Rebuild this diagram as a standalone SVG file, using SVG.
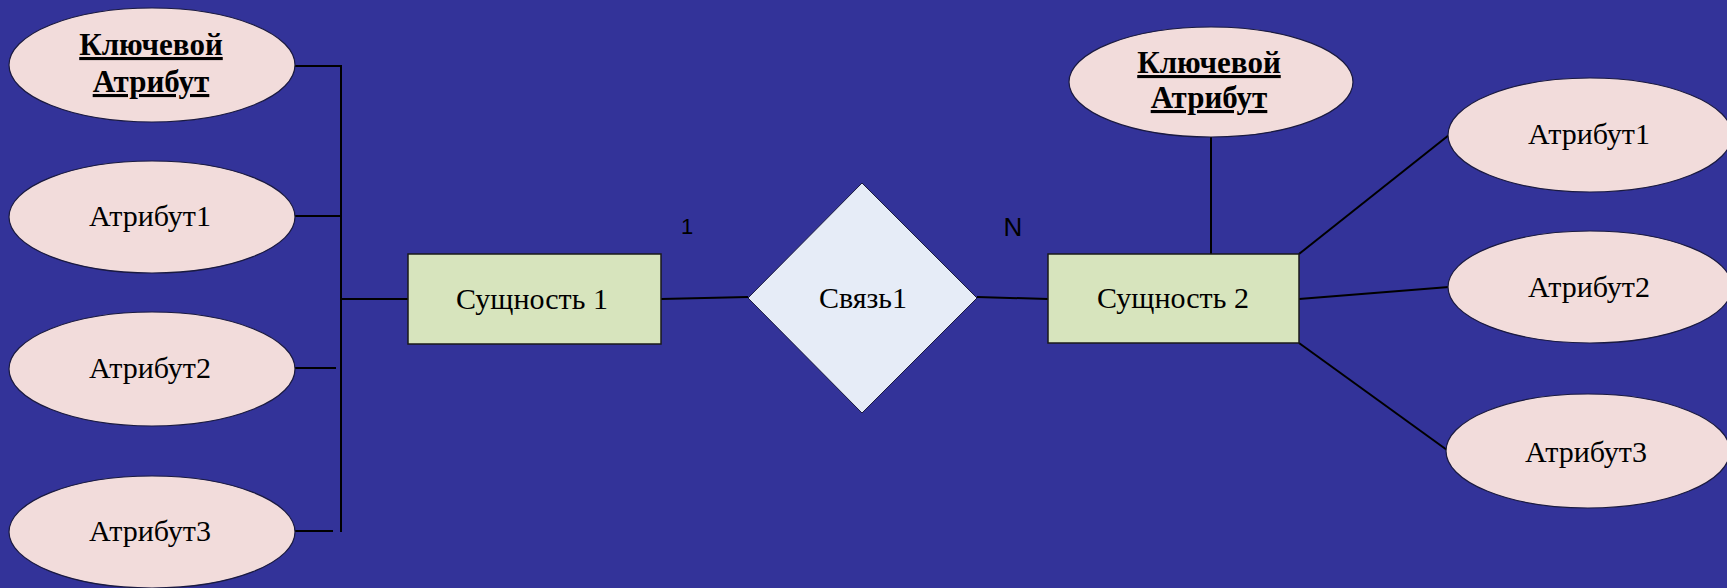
<svg xmlns="http://www.w3.org/2000/svg" width="1727" height="588" viewBox="0 0 1727 588">
<style>
.attr{fill:#F2DCDB;stroke:#1a1a40;stroke-width:1.2}
.ent{fill:#D7E4BD;stroke:#1a1a1a;stroke-width:1.5}
.rel{fill:#E6ECF7;stroke:#1a1a40;stroke-width:1}
.t{font-family:"Liberation Serif","Times New Roman",serif;font-size:30px;fill:#000;text-anchor:middle}
.k{font-family:"Liberation Serif","Times New Roman",serif;font-size:31px;font-weight:bold;fill:#000;text-anchor:middle;text-decoration:underline}
.c{font-family:"Liberation Sans",Arial,sans-serif;fill:#000;text-anchor:middle}
.ln{stroke:#000;stroke-width:2;fill:none}
</style>
<rect width="1727" height="588" fill="#333399"/>
<g id="connectors">
<polyline class="ln" points="294,66 341,66 341,532"/>
<line class="ln" x1="295" y1="216" x2="341" y2="216"/>
<line class="ln" x1="295" y1="368" x2="336" y2="368"/>
<line class="ln" x1="295" y1="531" x2="333" y2="531"/>
<line class="ln" x1="341" y1="299" x2="408" y2="299"/>
<line class="ln" x1="661" y1="299" x2="748" y2="297"/>
<line class="ln" x1="977" y1="297" x2="1048" y2="299"/>
<line class="ln" x1="1211" y1="137" x2="1211" y2="254"/>
<line class="ln" x1="1299" y1="254" x2="1449" y2="135"/>
<line class="ln" x1="1299" y1="299" x2="1449" y2="287"/>
<line class="ln" x1="1299" y1="343" x2="1447" y2="450"/>
<text class="c" x="687" y="234" font-size="22">1</text>
<text class="c" x="1013" y="236" font-size="26">N</text>
</g>
<g id="key1">
<ellipse class="attr" cx="152" cy="65" rx="143" ry="57"/>
<text class="k" x="151" y="55">Ключевой</text>
<text class="k" x="151" y="92">Атрибут</text>
</g>
<g id="attr1-left">
<ellipse class="attr" cx="152" cy="217" rx="143" ry="56"/>
<text class="t" x="150" y="226">Атрибут1</text>
</g>
<g id="attr2-left">
<ellipse class="attr" cx="152" cy="369" rx="143" ry="57"/>
<text class="t" x="150" y="378">Атрибут2</text>
</g>
<g id="attr3-left">
<ellipse class="attr" cx="152" cy="532" rx="143" ry="56"/>
<text class="t" x="150" y="541">Атрибут3</text>
</g>
<g id="entity1">
<rect class="ent" x="408" y="254" width="253" height="90"/>
<text class="t" x="532" y="309">Сущность 1</text>
</g>
<g id="relation1">
<polygon class="rel" points="862,183 977,298 862,413 748,298"/>
<text class="t" x="863" y="308" font-size="31">Связь1</text>
</g>
<g id="entity2">
<rect class="ent" x="1048" y="254" width="251" height="89"/>
<text class="t" x="1173" y="308">Сущность 2</text>
</g>
<g id="key2">
<ellipse class="attr" cx="1211" cy="82" rx="142" ry="55"/>
<text class="k" x="1209" y="73">Ключевой</text>
<text class="k" x="1209" y="108">Атрибут</text>
</g>
<g id="attr1-right">
<ellipse class="attr" cx="1590" cy="135" rx="142" ry="57"/>
<text class="t" x="1589" y="144">Атрибут1</text>
</g>
<g id="attr2-right">
<ellipse class="attr" cx="1590" cy="287" rx="142" ry="56"/>
<text class="t" x="1589" y="297">Атрибут2</text>
</g>
<g id="attr3-right">
<ellipse class="attr" cx="1588" cy="451" rx="142" ry="57"/>
<text class="t" x="1586" y="462">Атрибут3</text>
</g>
</svg>
